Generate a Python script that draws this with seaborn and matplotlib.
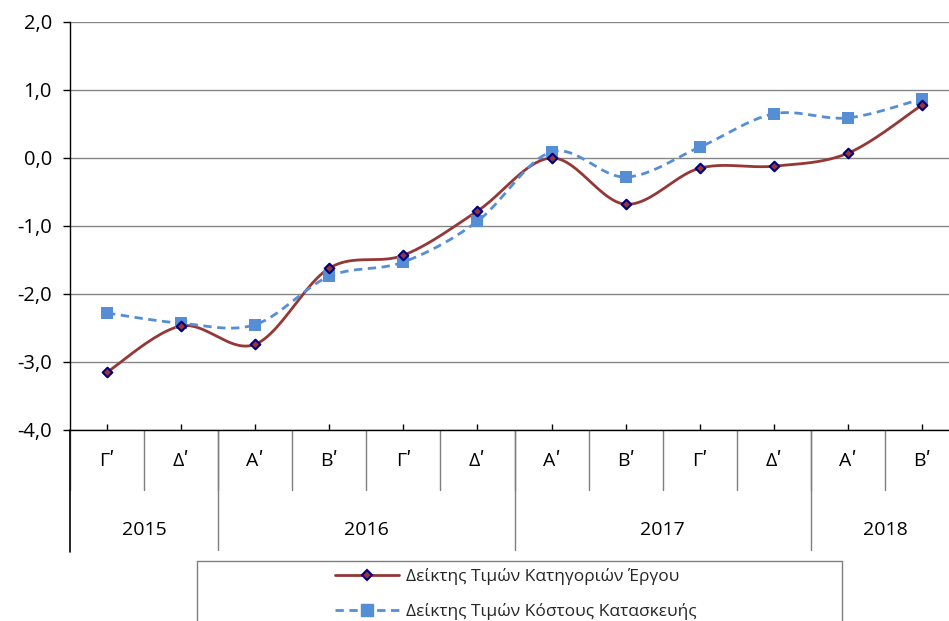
import numpy as np
import pandas as pd
import seaborn as sns
import matplotlib.pyplot as plt
from matplotlib.lines import Line2D
from matplotlib.patches import Rectangle

# quarters / years along the x axis
quarters = ["Γʹ", "Δʹ", "Αʹ", "Βʹ", "Γʹ", "Δʹ", "Αʹ", "Βʹ", "Γʹ", "Δʹ", "Αʹ", "Βʹ"]
years = ["2015", "2016", "2017", "2018"]
year_spans = [2, 4, 4, 2]

# values
project_index = [-3.15, -2.47, -2.74, -1.62, -1.43, -0.78, 0.00, -0.68, -0.15, -0.12, 0.07, 0.78]
cost_index = [-2.28, -2.43, -2.45, -1.74, -1.53, -0.93, 0.09, -0.28, 0.16, 0.65, 0.59, 0.87]

series_names = ["Δείκτης Τιμών Κατηγοριών Έργου", "Δείκτης Τιμών Κόστους Κατασκευής"]
RED = "#953735"
BLUE = "#558ED5"
NAVY = "#000080"
GRID = "#868686"


def smooth(ys, n=24):
    """Excel-like smoothed line (Catmull-Rom through the points)."""
    ys = np.asarray(ys, dtype=float)
    xs = np.arange(len(ys), dtype=float)
    pts = np.column_stack([xs, ys])
    pad = np.vstack([pts[0], pts, pts[-1]])
    out = []
    for i in range(len(pts) - 1):
        p0, p1, p2, p3 = pad[i], pad[i + 1], pad[i + 2], pad[i + 3]
        c1 = p1 + (p2 - p0) / 6
        c2 = p2 - (p3 - p1) / 6
        t = np.linspace(0, 1, n, endpoint=(i == len(pts) - 2))[:, None]
        seg = ((1 - t) ** 3) * p1 + 3 * ((1 - t) ** 2) * t * c1 + 3 * (1 - t) * t ** 2 * c2 + t ** 3 * p2
        out.append(seg)
    out = np.vstack(out)
    return out[:, 0], out[:, 1]


sns.set_theme(style="white")
plt.rcParams['font.family'] = ['Open Sans', 'DejaVu Sans']

W, H = 949, 621
fig = plt.figure(figsize=(W / 100, H / 100), dpi=100)
ax = fig.add_axes([70 / W, 1 - 430 / H, (959 - 70) / W, 408 / H])

x = np.arange(len(quarters))

# smoothed curves
sx, sy = smooth(project_index)
sns.lineplot(x=sx, y=sy, ax=ax, color=RED, lw=2, sort=False, zorder=3)
bx, by = smooth(cost_index)
sns.lineplot(x=bx, y=by, ax=ax, color=BLUE, lw=2, sort=False, zorder=3)
ax.lines[-1].set_dashes((3, 2))

# markers
sns.scatterplot(x=x, y=cost_index, ax=ax, marker="s", s=75, color=BLUE,
                edgecolor=BLUE, linewidth=0, zorder=4)
sns.scatterplot(x=x, y=project_index, ax=ax, marker="D", s=24, color=RED,
                edgecolor=NAVY, linewidth=1.5, zorder=5)

ax.set_xlim(-0.5, len(quarters) - 0.5)
ax.set_ylim(-4, 2)
ax.set_yticks(np.arange(-4, 2.5, 1))
ax.set_yticklabels([f"{v:.1f}".replace(".", ",") for v in np.arange(-4, 2.5, 1)])
ax.yaxis.grid(True, color=GRID, lw=1)
ax.xaxis.grid(False)
for sp in ["top", "right"]:
    ax.spines[sp].set_visible(False)
for sp in ["left", "bottom"]:
    ax.spines[sp].set_color("black")
    ax.spines[sp].set_linewidth(1)
ax.tick_params(axis="y", direction="out", length=5, width=1, color="black",
               labelsize=14.5, pad=8, left=True, labelcolor="black")
ax.set_xticks(x)
ax.tick_params(axis="x", direction="in", length=4, width=1, color="black",
               labelbottom=False, bottom=True)
ax.set_xticklabels([])

# category labels and separators below the axis
trans = ax.get_xaxis_transform()
hpx = 408.0
for i, q in enumerate(quarters):
    ax.text(i, -31 / hpx, q, transform=trans, ha="center", va="center",
            fontsize=14, color="black")
for b in np.arange(-0.5, len(quarters), 1):
    ax.plot([b, b], [0, -60 / hpx], transform=trans, color="#7f7f7f", lw=1,
            clip_on=False)
start = -0.5
ax.plot([start, start], [0, -122 / hpx], transform=trans, color="black", lw=1.2,
        clip_on=False)
for yr, span in zip(years, year_spans):
    ax.text(start + span / 2, -100 / hpx, yr, transform=trans, ha="center",
            va="center", fontsize=14, color="black")
    start += span
    ax.plot([start, start], [0, -120 / hpx], transform=trans, color="#7f7f7f",
            lw=1, clip_on=False)

# legend box
fig.patches.append(Rectangle((197 / W, -0.05), (842 - 197) / W, 1 - 561 / H + 0.05,
                             transform=fig.transFigure, fill=False,
                             edgecolor="#7f7f7f", lw=1))
handles = [
    Line2D([], [], color=RED, lw=2, marker="D", markersize=5,
           markerfacecolor=RED, markeredgecolor=NAVY, markeredgewidth=1.5),
    Line2D([], [], color=BLUE, lw=2, dashes=(3, 2), marker="s", markersize=8,
           markerfacecolor=BLUE, markeredgecolor=BLUE),
]
fig.legend(handles, series_names, loc="center", bbox_to_anchor=(516 / W, 1 - 594 / H),
           frameon=False, fontsize=12.5, handlelength=3.7, handletextpad=0.4,
           labelspacing=1.05, borderpad=0)

fig.savefig("out.png", dpi=100)
